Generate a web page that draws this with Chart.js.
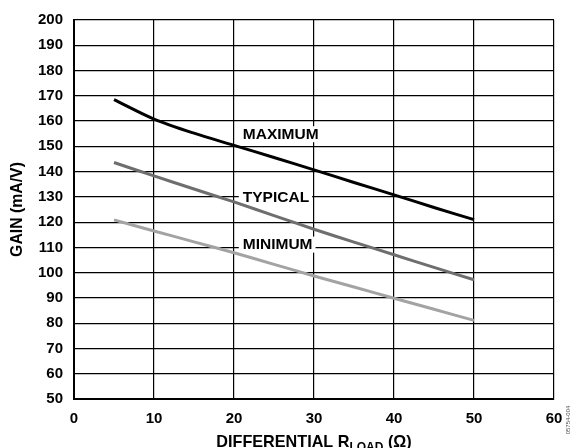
<!DOCTYPE html>
<html>
<head>
<meta charset="utf-8">
<script src="https://cdn.jsdelivr.net/npm/chart.js@4/dist/chart.umd.min.js"></script>
<style>
html,body{margin:0;padding:0;background:#fff;}
#wrap{width:577px;height:448px;position:relative;}
</style>
</head>
<body>
<div id="wrap"><canvas id="c" width="577" height="448"></canvas></div>
<script>
const rload = [5, 10, 15, 20, 25, 30, 35, 40, 45, 50];
const gainMax = [168.5, 160.8, 155.2, 150.4, 145.6, 140.7, 135.7, 130.8, 125.8, 121.0];
const gainTyp = [143.6, 138.3, 133.1, 128.0, 122.6, 117.2, 112.1, 107.1, 102.1, 97.2];
const gainMin = [120.9, 116.5, 112.2, 107.9, 103.3, 98.7, 94.3, 89.9, 85.5, 81.1];
const xTicks = [0, 10, 20, 30, 40, 50, 60];
const yTicks = [50, 60, 70, 80, 90, 100, 110, 120, 130, 140, 150, 160, 170, 180, 190, 200];
const seriesNames = ['MAXIMUM', 'TYPICAL', 'MINIMUM'];
// label anchor (left x, center y) in data units
const labelX = [21.1, 21.1, 21.1];
const labelY = [154.8, 130, 111.1];

const FONT = '"Liberation Sans", Arial, sans-serif';
function pts(arr){ return rload.map((x,i)=>({x:x, y:arr[i]})); }

const labelPlugin = {
  id: 'labels',
  beforeDatasetsDraw(chart){
    const ctx = chart.ctx, xs = chart.scales.x, ys = chart.scales.y;
    ctx.save();
    ctx.font = 'bold 15.5px ' + FONT;
    ctx.textBaseline = 'middle';
    seriesNames.forEach((n,i)=>{
      const px = xs.getPixelForValue(labelX[i]);
      const py = ys.getPixelForValue(labelY[i]);
      const w = ctx.measureText(n).width;
      ctx.fillStyle = '#fff';
      ctx.fillRect(px - 4, py - 8, w + 7, 16);
      ctx.fillStyle = '#000';
      ctx.fillText(n, px, py + 0.5);
    });
    ctx.restore();
  },
  afterDraw(chart){
    const ctx = chart.ctx, ca = chart.chartArea;
    ctx.save();
    ctx.fillStyle = '#000';
    // x axis title with subscript
    const main1 = 'DIFFERENTIAL R', sub = 'LOAD', main2 = ' (\u03A9)';
    const fBig = 'bold 16.2px ' + FONT, fSmall = 'bold 12px ' + FONT;
    ctx.font = fBig; const w1 = ctx.measureText(main1).width, w3 = ctx.measureText(main2).width;
    ctx.font = fSmall; const w2 = ctx.measureText(sub).width;
    const total = w1 + w2 + w3;
    let x0 = (ca.left + ca.right)/2 - total/2;
    const base = 447;
    ctx.textBaseline = 'alphabetic';
    ctx.font = fBig; ctx.fillText(main1, x0, base);
    ctx.font = fSmall; ctx.fillText(sub, x0 + w1, base + 4);
    ctx.font = fBig; ctx.fillText(main2, x0 + w1 + w2, base);
    // y axis title
    ctx.translate(18, (ca.top + ca.bottom)/2);
    ctx.rotate(-Math.PI/2);
    ctx.textAlign = 'center';
    ctx.textBaseline = 'middle';
    ctx.font = 'bold 15.8px ' + FONT;
    ctx.fillText('GAIN (mA/V)', 0, 0);
    ctx.restore();
    // side code
    ctx.save();
    ctx.translate(568, 420);
    ctx.rotate(-Math.PI/2);
    ctx.textAlign = 'center';
    ctx.textBaseline = 'middle';
    ctx.font = '6px ' + FONT;
    ctx.fillStyle = '#555';
    ctx.fillText('05754-004', 0, 0);
    ctx.restore();
  }
};

new Chart(document.getElementById('c'), {
  type: 'line',
  data: {
    datasets: [
      {label: seriesNames[0], data: pts(gainMax), borderColor: '#000000', borderWidth: 3, pointRadius: 0, tension: 0.3, fill: false},
      {label: seriesNames[1], data: pts(gainTyp), borderColor: '#6e6e6e', borderWidth: 3, pointRadius: 0, tension: 0.3, fill: false},
      {label: seriesNames[2], data: pts(gainMin), borderColor: '#a3a3a3', borderWidth: 3, pointRadius: 0, tension: 0.3, fill: false}
    ]
  },
  options: {
    responsive: false,
    animation: false,
    devicePixelRatio: 1,
    layout: {padding: {top: 15, right: 23, left: 0, bottom: 0}},
    plugins: {legend: {display: false}, tooltip: {enabled: false}},
    scales: {
      x: {
        type: 'linear', min: 0, max: 60,
        afterBuildTicks(s){ s.ticks = xTicks.map(v=>({value:v})); },
        afterFit(s){ s.height = 49; },
        grid: {color: '#000', lineWidth: 1.2, drawTicks: false},
        border: {color: '#000', width: 2},
        ticks: {color: '#000', font: {family: FONT, weight: 'bold', size: 15}, padding: 11, maxRotation: 0}
      },
      y: {
        type: 'linear', min: 50, max: 200,
        afterBuildTicks(s){ s.ticks = yTicks.map(v=>({value:v})); },
        afterFit(s){ s.width = 74; },
        grid: {color: '#000', lineWidth: 1.2, drawTicks: false},
        border: {color: '#000', width: 2},
        ticks: {color: '#000', font: {family: FONT, weight: 'bold', size: 15}, padding: 11}
      }
    }
  },
  plugins: [labelPlugin]
});
</script>
</body>
</html>
